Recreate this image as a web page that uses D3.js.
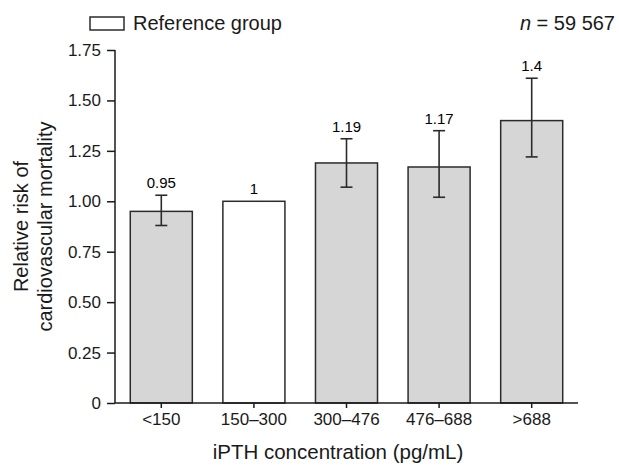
<!DOCTYPE html>
<html lang="en">
<head>
<meta charset="utf-8">
<title>Relative risk of cardiovascular mortality</title>
<script src="https://d3js.org/d3.v7.min.js"></script>
<style>
  body { margin: 0; background: #fff; }
  text { font-family: "Liberation Sans", Arial, sans-serif; fill: #1a1a1a; }
</style>
</head>
<body>
<script>
// data
const groups = ["<150", "150\u2013300", "300\u2013476", "476\u2013688", ">688"];
const risk = [0.95, 1, 1.19, 1.17, 1.4];
const ciLow = [0.88, null, 1.07, 1.02, 1.22];
const ciHigh = [1.03, null, 1.31, 1.35, 1.61];
const riskLabels = ["0.95", "1", "1.19", "1.17", "1.4"];
const isReference = [false, true, false, false, false];
const yTicks = [0, 0.25, 0.5, 0.75, 1, 1.25, 1.5, 1.75];

const W = 619, H = 468;
const margin = {left: 115, right: 41, top: 50, bottom: 65};

const svg = d3.select("body").append("svg")
    .attr("width", W)
    .attr("height", H);

const x = d3.scaleBand()
    .domain(groups)
    .range([margin.left, W - margin.right])
    .paddingInner(0.33)
    .paddingOuter(0.165);

const y = d3.scaleLinear()
    .domain([0, 1.75])
    .range([H - margin.bottom, margin.top]);

const rows = groups.map((g, i) => ({g: g, v: risk[i], lo: ciLow[i], hi: ciHigh[i], lab: riskLabels[i], ref: isReference[i]}));

// bars
svg.selectAll(".bar")
  .data(rows)
  .enter().append("rect")
    .attr("class", "bar")
    .attr("x", d => x(d.g))
    .attr("y", d => y(d.v))
    .attr("width", x.bandwidth())
    .attr("height", d => y(0) - y(d.v))
    .attr("fill", d => d.ref ? "#ffffff" : "#d6d6d6")
    .attr("stroke", "#2b2b2b")
    .attr("stroke-width", 1.5);

// error bars
const cap = 6;
const eb = svg.selectAll(".err")
  .data(rows.filter(d => d.lo != null))
  .enter().append("g")
    .attr("class", "err")
    .attr("stroke", "#2b2b2b")
    .attr("stroke-width", 1.6);
eb.append("line")
    .attr("x1", d => x(d.g) + x.bandwidth() / 2)
    .attr("x2", d => x(d.g) + x.bandwidth() / 2)
    .attr("y1", d => y(d.lo))
    .attr("y2", d => y(d.hi));
eb.append("line")
    .attr("x1", d => x(d.g) + x.bandwidth() / 2 - cap)
    .attr("x2", d => x(d.g) + x.bandwidth() / 2 + cap)
    .attr("y1", d => y(d.hi))
    .attr("y2", d => y(d.hi));
eb.append("line")
    .attr("x1", d => x(d.g) + x.bandwidth() / 2 - cap)
    .attr("x2", d => x(d.g) + x.bandwidth() / 2 + cap)
    .attr("y1", d => y(d.lo))
    .attr("y2", d => y(d.lo));

// value labels
svg.selectAll(".val")
  .data(rows)
  .enter().append("text")
    .attr("class", "val")
    .attr("x", d => x(d.g) + x.bandwidth() / 2)
    .attr("y", d => y(d.hi != null ? d.hi : d.v) - 7)
    .attr("text-anchor", "middle")
    .style("font-size", "15px")
    .style("fill", "#000")
    .text(d => d.lab);

// axes
const yAxis = svg.append("g")
    .attr("transform", "translate(" + margin.left + ",0)")
    .call(d3.axisLeft(y).tickValues(yTicks).tickSize(8).tickPadding(6)
        .tickFormat(d => d === 0 ? "0" : d.toFixed(2)));
const xAxis = svg.append("g")
    .attr("transform", "translate(0," + y(0) + ")")
    .call(d3.axisBottom(x).tickSize(5).tickPadding(5).tickSizeOuter(0));

[yAxis, xAxis].forEach(a => {
  a.selectAll("path, line").attr("stroke", "#1a1a1a").attr("stroke-width", 1.5);
  a.selectAll("text").style("font-size", "17px").attr("fill", "#1a1a1a")
    .style("font-family", "'Liberation Sans', Arial, sans-serif");
});
yAxis.select(".domain").attr("d", "M0," + y(1.75) + "V" + y(0));
xAxis.select(".domain").attr("d", "M" + margin.left + ",0H" + (W - margin.right));

// axis titles
svg.append("text")
    .attr("x", 338)
    .attr("y", 459)
    .attr("text-anchor", "middle")
    .style("font-size", "20.5px")
    .text("iPTH concentration (pg/mL)");

const yt = svg.append("text")
    .attr("transform", "translate(28," + (y(0) + y(1.75)) / 2 + ") rotate(-90)")
    .attr("text-anchor", "middle")
    .style("font-size", "20px");
yt.append("tspan").attr("x", 0).attr("dy", 0).text("Relative risk of");
yt.append("tspan").attr("x", 0).attr("dy", 24).text("cardiovascular mortality");

// legend
svg.append("rect")
    .attr("x", 90).attr("y", 17)
    .attr("width", 34).attr("height", 13)
    .attr("fill", "#fff")
    .attr("stroke", "#2b2b2b")
    .attr("stroke-width", 1.5);
svg.append("text")
    .attr("x", 133).attr("y", 30)
    .style("font-size", "20px")
    .text("Reference group");

const nt = svg.append("text")
    .attr("x", 615).attr("y", 30)
    .attr("text-anchor", "end")
    .style("font-size", "20px");
nt.append("tspan").style("font-style", "italic").text("n");
nt.append("tspan").text(" = 59 567");
</script>
</body>
</html>
